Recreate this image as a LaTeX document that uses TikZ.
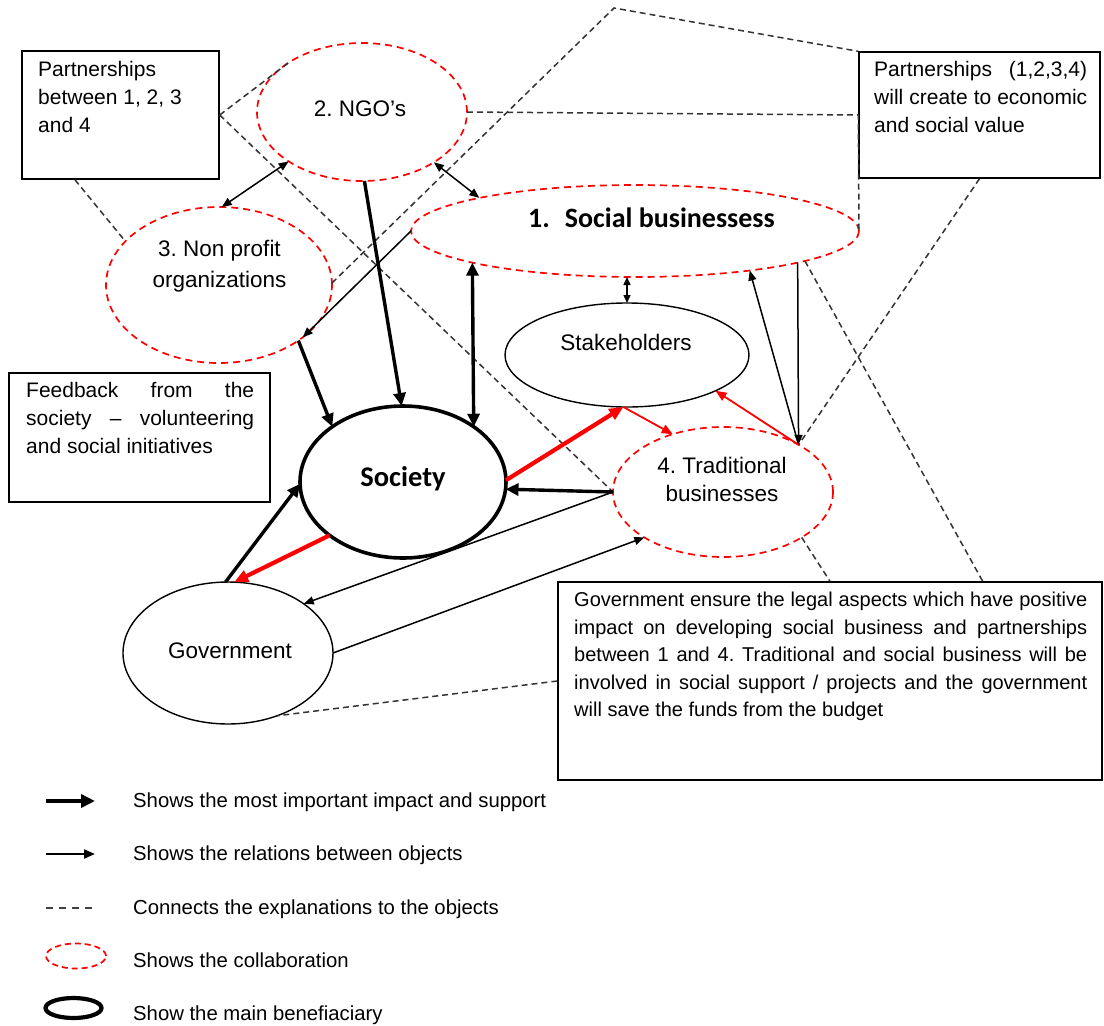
\documentclass[tikz,border=0pt]{standalone}
\usepackage{fontspec}
\setmainfont{Liberation Sans}
\newfontfamily\carlito{Carlito}
\usetikzlibrary{arrows.meta,calc,shapes.geometric}
\frenchspacing
\begin{document}
\begin{tikzpicture}[x=1pt,y=-1pt,
  box/.style={draw, line width=1.4pt, rectangle, inner sep=0pt},
  ell/.style={ellipse, inner sep=0pt, outer sep=0pt},
  collab/.style={ell, draw=red, line width=1.7pt, dash pattern=on 7pt off 5pt},
  plainell/.style={ell, draw, line width=1.4pt},
  mainell/.style={ell, draw, line width=3.6pt},
  boxtxt/.style={anchor=north west, align=left, inner sep=0pt, font=\fontsize{21}{28}\selectfont},
  lbl/.style={inner sep=0pt, font=\fontsize{22.5}{31}\selectfont},
  lgd/.style={anchor=base west, inner sep=0pt, font=\fontsize{20.3}{24}\selectfont},
  bigarr/.style={line width=3.4pt, -{Triangle[length=13pt,width=12pt]}},
  bigboth/.style={line width=3.4pt, {Triangle[length=13pt,width=12pt]}-{Triangle[length=13pt,width=12pt]}},
  smallarr/.style={line width=1.5pt, -{Triangle[length=10pt,width=8pt]}},
  smallboth/.style={line width=1.5pt, {Triangle[length=10pt,width=8pt]}-{Triangle[length=10pt,width=8pt]}},
  tinyboth/.style={line width=1.5pt, {Triangle[length=8pt,width=7pt]}-{Triangle[length=8pt,width=7pt]}},
  redbig/.style={red, line width=4.2pt, -{Triangle[length=14pt,width=12pt]}},
  redsmall/.style={red, line width=1.8pt, -{Triangle[length=11pt,width=9pt]}},
  dsh/.style={black!80, line width=1.5pt, dash pattern=on 6pt off 4pt}
]
\fill[white] (0,0) rectangle (1104,1026);
\useasboundingbox (0,0) rectangle (1104,1026);

% explanation boxes
\node[box, minimum width=197pt, minimum height=128pt] (boxA) at (120.5,115) {};
\node[box, minimum width=241pt, minimum height=126pt] (boxB) at (979.5,115) {};
\node[box, minimum width=261pt, minimum height=129pt] (boxC) at (139.5,437.5) {};
\node[box, minimum width=544pt, minimum height=198pt] (boxD) at (830,681) {};

\node[boxtxt] (boxAtext) at (38,61) {Partnerships\\between 1, 2, 3\\and 4};
\node[boxtxt] (boxBtext) at (874,61) {\makebox[213pt][s]{Partnerships (1,2,3,4)}\\\makebox[213pt][s]{will create to economic}\\and social value};
\node[boxtxt] (boxCtext) at (26,382) {\makebox[228pt][s]{Feedback from the}\\\makebox[228pt][s]{society – volunteering}\\and social initiatives};
\node[boxtxt, font=\fontsize{20}{27.5}\selectfont] (boxDtext) at (574,592) {\makebox[513pt][s]{Government ensure the legal aspects which have positive}\\\makebox[513pt][s]{impact on developing social business and partnerships}\\\makebox[513pt][s]{between 1 and 4. Traditional and social business will be}\\\makebox[513pt][s]{involved in social support / projects and the government}\\will save the funds from the budget};

% objects
\node[collab, minimum width=210pt, minimum height=138pt] (ngo) at (362,112) {};
\node[collab, minimum width=226pt, minimum height=156pt] (npo) at (219,285) {};
\node[collab, minimum width=448pt, minimum height=92pt] (sb) at (635,231) {};
\node[plainell, minimum width=244pt, minimum height=104pt] (stake) at (627,355) {};
\node[mainell, minimum width=206pt, minimum height=152pt] (society) at (403,482) {};
\node[collab, minimum width=220pt, minimum height=130pt] (trad) at (723,492) {};
\node[plainell, minimum width=210pt, minimum height=142pt] (gov) at (228,653) {};

\node[lbl, anchor=base] (ngoL) at (360,116) {2. NGO’s};
\node[lbl, anchor=north, align=center] (npoL) at (219.5,240) {3. Non profit\\organizations};
\node[anchor=base west, inner sep=0pt, font=\carlito\bfseries\fontsize{28}{30}\selectfont] (sbL) at (528,227) {1.\hspace{15pt}Social businessess};
\node[lbl, anchor=base] (stakeL) at (626,350) {Stakeholders};
\node[anchor=base, inner sep=0pt, font=\carlito\bfseries\fontsize{28.5}{30}\selectfont] (societyL) at (403,486) {Society};
\node[lbl, anchor=north, align=center, font=\fontsize{22.5}{28}\selectfont] (tradL) at (722,457) {4. Traditional\\businesses};
\node[lbl, anchor=base] (govL) at (230,658) {Government};

\coordinate (apex) at (614,8);

% dashed explanation connectors
\draw[dsh] (boxA.east) -- (ngo.146);
\draw[dsh] (boxA.east) -- (trad.west);
\draw[dsh] ($(boxA.south west)!0.27!(boxA.south east)$) -- (npo.155);
\draw[dsh] (npo.1) -- (apex) -- (boxB.north west);
\draw[dsh] (ngo.east) -- (boxB.west) -- (sb.east);
\draw[dsh] (boxB.south) -- (trad.32);
\draw[dsh] (sb.350) -- ($(boxD.north west)!0.78!(boxD.north east)$);
\draw[dsh] (trad.330) -- (boxD.north);
\draw[dsh] (boxD.west) -- (gov.308);

% relations
\draw[smallboth] (ngo.214) -- (npo.88);
\draw[smallboth] (ngo.325) -- (sb.168);
\draw[bigarr] (ngo.272) -- (society.91);
\draw[smallarr] (sb.180) -- (npo.328);
\draw[bigarr] (npo.325) -- (society.142);
\draw[bigboth] (sb.191) -- (society.38);
\draw[tinyboth] (stake.north |- sb.south) -- (stake.north);
\draw[smallarr] (trad.32) -- (sb.341);
\draw[smallarr] (sb.349) -- (trad.32);
\draw[redsmall] (trad.32) -- (stake.338);
\draw[redbig] (society.1) -- (stake.266);
\draw[redsmall] (stake.266) -- (trad.131);
\draw[bigarr] (trad.west) -- (society.356);
\draw[smallarr] (trad.west) -- (gov.33);
\draw[bigarr] (gov.92) -- (society.181);
\draw[redbig] (society.216) -- (gov.85);
\draw[smallarr] (gov.east) -- (trad.210);

% legend
\draw[line width=4.8pt, -{Triangle[length=14pt,width=13pt]}] (46,801) -- (95,801);
\draw[line width=2.2pt, -{Triangle[length=11pt,width=9pt]}] (46,854) -- (95,854);
\draw[black!75, line width=1.6pt, dash pattern=on 7pt off 6pt] (46,908) -- (95,908);
\draw[red, line width=1.7pt, dash pattern=on 6pt off 4pt] (76,956) ellipse [x radius=30pt, y radius=12.5pt];
\draw[line width=4.2pt] (73.5,1008) ellipse [x radius=28pt, y radius=10pt];
\node[lgd] (lg1) at (133,807) {Shows the most important impact and support};
\node[lgd] (lg2) at (133,860) {Shows the relations between objects};
\node[lgd] (lg3) at (133,914) {Connects the explanations to the objects};
\node[lgd] (lg4) at (133,967) {Shows the collaboration};
\node[lgd] (lg5) at (133,1020) {Show the main benefiaciary};
\end{tikzpicture}
\end{document}
